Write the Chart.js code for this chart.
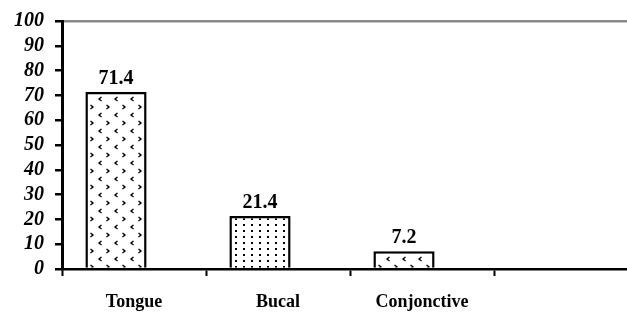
<!DOCTYPE html>
<html>
<head>
<meta charset="utf-8">
<script src="https://cdn.jsdelivr.net/npm/chart.js@4.4.1/dist/chart.umd.min.js"></script>
<style>
  html, body { margin: 0; padding: 0; background: #fff; overflow: hidden; }
  /* the plot runs slightly past the right edge of the picture */
  #wrap { width: 638px; height: 313px; position: relative; }
</style>
</head>
<body>
<div id="wrap"><canvas id="chart"></canvas></div>
<script>
const categories = ['Tongue', 'Bucal', 'Conjonctive', ''];
const values = [71.4, 21.4, 7.2, null];
const yTicks = [0, 10, 20, 30, 40, 50, 60, 70, 80, 90, 100];

const serif = '"Liberation Serif", "Times New Roman", serif';

// small fill patterns like the old spreadsheet hatches
function chevronPattern() {
  const c = document.createElement('canvas');
  c.width = 16; c.height = 16;
  const g = c.getContext('2d');
  g.fillStyle = '#fff';
  g.fillRect(0, 0, 16, 16);
  g.strokeStyle = '#000';
  g.lineWidth = 1.4;
  g.beginPath();
  // "<"
  g.moveTo(5.5, 1); g.lineTo(3, 3); g.lineTo(5.5, 5);
  // ">"
  g.moveTo(10.5, 9); g.lineTo(13, 11); g.lineTo(10.5, 13);
  g.stroke();
  return g.createPattern(c, 'repeat');
}

function dotPattern() {
  const c = document.createElement('canvas');
  c.width = 8; c.height = 6;
  const g = c.getContext('2d');
  g.fillStyle = '#fff';
  g.fillRect(0, 0, 8, 6);
  g.fillStyle = '#000';
  g.fillRect(3, 2, 2, 2);
  return g.createPattern(c, 'repeat');
}

const chev = chevronPattern();
const dots = dotPattern();
const fills = [chev, dots, chev, chev];

const valueLabels = {
  id: 'valueLabels',
  afterDatasetsDraw(chart) {
    const { ctx } = chart;
    const meta = chart.getDatasetMeta(0);
    ctx.save();
    ctx.font = 'bold 20px ' + serif;
    ctx.fillStyle = '#000';
    ctx.textAlign = 'center';
    ctx.textBaseline = 'alphabetic';
    meta.data.forEach((bar, i) => {
      if (values[i] == null) return;
      ctx.fillText(values[i].toFixed(1), bar.x, bar.y - 8);
    });
    ctx.restore();
  },
};

new Chart(document.getElementById('chart'), {
  type: 'bar',
  data: {
    labels: categories,
    datasets: [
      {
        data: values,
        backgroundColor: fills,
        borderColor: '#000',
        borderWidth: 2.5,
        borderSkipped: 'bottom',
        barPercentage: 1.7,
        categoryPercentage: 0.5,
      },
      {
        // empty second series, pushes the bars to the left of each slot
        data: [null, null, null, null],
        backgroundColor: 'transparent',
        categoryPercentage: 0.5,
      },
    ],
  },
  options: {
    responsive: true,
    maintainAspectRatio: false,
    animation: false,
    layout: { padding: { top: 8, right: 0, left: 0, bottom: 0 } },
    plugins: {
      legend: { display: false },
      tooltip: { enabled: false },
    },
    scales: {
      x: {
        offset: true,
        grid: {
          offset: true,
          drawOnChartArea: false,
          drawTicks: true,
          tickLength: 7,
          tickColor: '#000',
          tickWidth: 2,
        },
        border: { color: '#000', width: 2.5 },
        ticks: {
          color: '#000',
          padding: 16,
          autoSkip: false,
          maxRotation: 0,
          font: { family: serif, size: 18, weight: 'bold' },
        },
        afterFit: (s) => { s.height = 44; },
      },
      y: {
        min: 0,
        max: 100,
        afterBuildTicks: (s) => { s.ticks = yTicks.map((v) => ({ value: v })); },
        grid: {
          color: (c) => (c.tick && c.tick.value === 100 ? '#888' : 'transparent'),
          lineWidth: 2.5,
          drawTicks: true,
          tickLength: 7,
          tickColor: '#000',
          tickWidth: 2.5,
        },
        border: { color: '#000', width: 3 },
        ticks: {
          color: '#000',
          padding: 11,
          autoSkip: false,
          font: { family: serif, size: 20, weight: 'bold', style: 'italic', lineHeight: 1 },
        },
        afterFit: (s) => { s.width = 62; },
      },
    },
  },
  plugins: [valueLabels],
});
</script>
</body>
</html>
